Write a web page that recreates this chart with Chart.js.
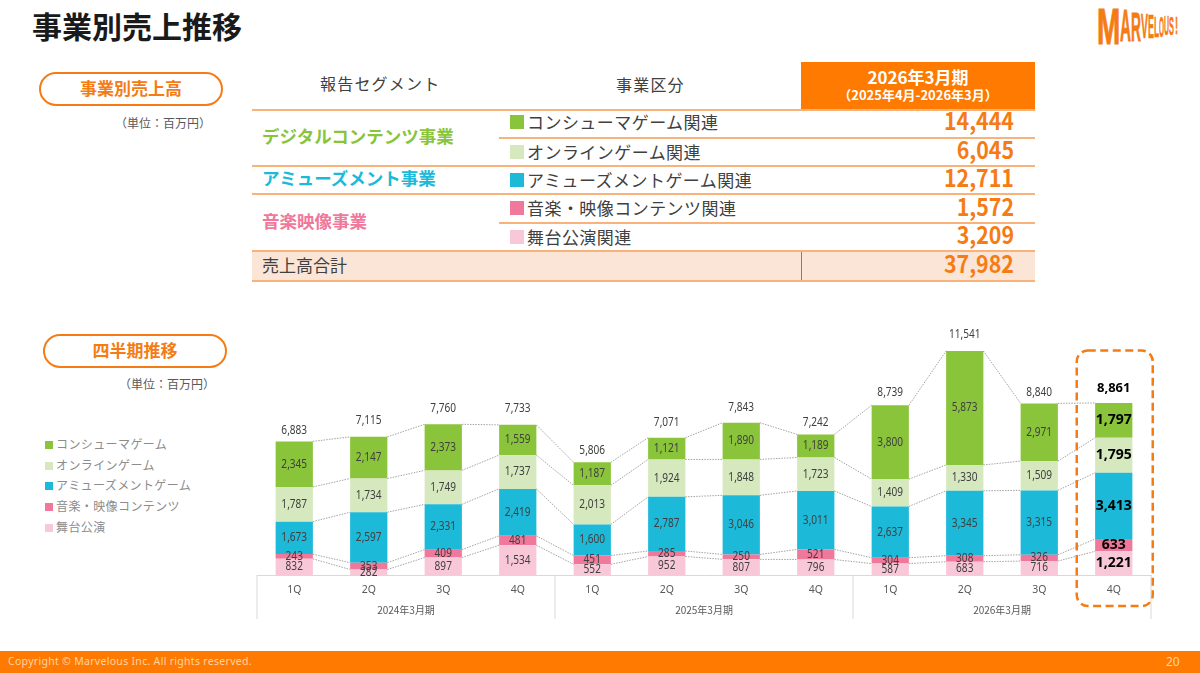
<!DOCTYPE html>
<html lang="ja">
<head>
<meta charset="UTF-8">
<title>事業別売上推移</title>
<script src="https://cdn.jsdelivr.net/npm/chart.js"></script>
<style>
  html, body { margin: 0; padding: 0; background: #fff; }
  body { width: 1200px; height: 673px; position: relative; overflow: hidden; font-family: "Noto Sans CJK JP", sans-serif; color: #404040; }
  .abs { position: absolute; white-space: nowrap; line-height: 1; }
  .mid { transform: translateY(-50%); }
  .pill { position: absolute; box-sizing: border-box; width: 184px; height: 34px; border: 2px solid #f57c14; border-radius: 17px; color: #f57c14; font-weight: 700; font-size: 17px; line-height: 28px; text-align: center; background: #fff; }
  .unit { font-size: 12px; color: #595959; }
  .rule { position: absolute; }
  .value { font-size: 23.5px; font-weight: 700; color: #f57c14; transform: translateY(-50%) scaleX(.91); transform-origin: right center; }
  #chartBox { position: absolute; left: 0; top: 320px; width: 1200px; height: 310px; }
  #logo span { position: absolute; font-family: "Liberation Sans Narrow", "Liberation Sans", sans-serif; font-weight: 700; font-size: 40px; line-height: 40px; color: #f57c14; transform-origin: left top; white-space: nowrap; -webkit-text-stroke: .8px #f57c14; }
  #footer { position: absolute; left: 0; top: 651px; width: 1200px; height: 22px; background: #ff7a00; }
</style>
</head>
<body>
  <div class="abs mid" style="left:32px;top:25px;font-size:30px;font-weight:700;color:#1a1a1a">事業別売上推移</div>
  <div id="logo"></div>

  <div class="pill" style="left:39px;top:72px">事業別売上高</div>
  <div class="abs mid unit" style="left:115px;top:123px">（単位：百万円）</div>
  <div class="pill" style="left:43px;top:334px">四半期推移</div>
  <div class="abs mid unit" style="left:119px;top:384px">（単位：百万円）</div>

  <div id="table"></div>
  <div id="legend"></div>

  <div id="chartBox"><canvas id="quarterChart" width="1200" height="310"></canvas></div>

  <div id="footer"></div>
  <div class="abs mid" style="left:8px;top:661px;font-size:10.5px;letter-spacing:.3px;color:#ffd3a6;font-family:'Noto Sans',sans-serif">Copyright © Marvelous Inc. All rights reserved.</div>
  <div class="abs mid" style="left:1166px;top:662px;font-size:12px;color:#ffd3a6;font-family:'Noto Sans',sans-serif">20</div>

<script>
  // 四半期推移
  const quarters = ['1Q', '2Q', '3Q', '4Q', '1Q', '2Q', '3Q', '4Q', '1Q', '2Q', '3Q', '4Q'];
  const fiscalYears = ['2024年3月期', '2025年3月期', '2026年3月期'];
  const seriesNames = ['コンシューマゲーム', 'オンラインゲーム', 'アミューズメントゲーム', '音楽・映像コンテンツ', '舞台公演'];
  const consumer  = [2345, 2147, 2373, 1559, 1187, 1121, 1890, 1189, 3800, 5873, 2971, 1797];
  const online    = [1787, 1734, 1749, 1737, 2013, 1924, 1848, 1723, 1409, 1330, 1509, 1795];
  const amusement = [1673, 2597, 2331, 2419, 1600, 2787, 3046, 3011, 2637, 3345, 3315, 3413];
  const music     = [243, 353, 409, 481, 451, 285, 250, 521, 304, 308, 326, 633];
  const stage     = [832, 282, 897, 1534, 552, 952, 807, 796, 587, 683, 716, 1221];
  const totals    = [6883, 7115, 7760, 7733, 5806, 7071, 7843, 7242, 8739, 11541, 8840, 8861];

  // 事業別売上高テーブル
  const tableItems = ['コンシューマゲーム関連', 'オンラインゲーム関連', 'アミューズメントゲーム関連', '音楽・映像コンテンツ関連', '舞台公演関連'];
  const tableValues = ['14,444', '6,045', '12,711', '1,572', '3,209'];
  const tableTotal = '37,982';

  const colors = ['#8ac43a', '#d5e8be', '#1cb9d8', '#f0789a', '#f9c8d8'];
  const fmt = v => v.toLocaleString('en-US');

  // テーブル
  const table = document.getElementById('table');
  function add(html) { table.insertAdjacentHTML('beforeend', html); }
  function text(x, y, str, style) {
    add('<div class="abs mid" style="left:' + x + 'px;top:' + y + 'px;' + style + '">' + str + '</div>');
  }
  add('<div style="position:absolute;left:801px;top:62px;width:234px;height:47px;background:#ff7a00"></div>');
  add('<div style="position:absolute;left:252px;top:251px;width:783px;height:30px;background:#fbe5d6"></div>');
  add('<div style="position:absolute;left:800.5px;top:251px;height:30px;border-left:1px solid #7f7f7f"></div>');
  [[252, 109, 2], [499, 137, 2], [252, 165, 2], [252, 193, 2], [499, 222, 2], [252, 250, 2], [252, 280, 2]].forEach(r => {
    add('<div class="rule" style="left:' + r[0] + 'px;top:' + r[1] + 'px;width:' + (1035 - r[0]) + 'px;height:' + r[2] + 'px;background:#f8b27a"></div>');
  });
  text(320, 83, '報告セグメント', 'font-size:16px;letter-spacing:1.2px');
  text(616, 84, '事業区分', 'font-size:16px;letter-spacing:1.2px');
  add('<div class="abs" style="left:801px;width:234px;top:68px;text-align:center;color:#fff;font-weight:700;font-size:17px">2026年3月期</div>');
  add('<div class="abs" style="left:801px;width:234px;top:88px;text-align:center;color:#fff;font-weight:700;font-size:13px">（2025年4月-2026年3月）</div>');
  text(262, 136, 'デジタルコンテンツ事業', 'font-size:17.5px;font-weight:700;color:' + colors[0]);
  text(262, 178, 'アミューズメント事業', 'font-size:17.5px;font-weight:700;color:' + colors[2]);
  text(262, 221, '音楽映像事業', 'font-size:17.5px;font-weight:700;color:' + colors[3]);
  text(262, 264, '売上高合計', 'font-size:17px');
  const rowY = [122, 152, 180, 208, 237];
  const valueY = [121, 150, 178, 207, 235];
  tableItems.forEach((name, i) => {
    add('<div style="position:absolute;left:510px;top:' + (rowY[i] - 7) + 'px;width:14px;height:14px;background:' + colors[i] + '"></div>');
    text(527, rowY[i] - 1, name, 'font-size:17px;letter-spacing:.45px');
    add('<div class="abs value" style="right:186px;top:' + valueY[i] + 'px">' + tableValues[i] + '</div>');
  });
  add('<div class="abs value" style="right:186px;top:264px">' + tableTotal + '</div>');

  // 凡例
  const legend = document.getElementById('legend');
  const legendY = [445, 466, 486, 507, 528];
  seriesNames.forEach((name, i) => {
    legend.insertAdjacentHTML('beforeend',
      '<div style="position:absolute;left:45px;top:' + (legendY[i] - 4) + 'px;width:8px;height:8px;background:' + colors[i] + '"></div>' +
      '<div class="abs mid" style="left:56px;top:' + (legendY[i] - 1) + 'px;font-size:12px;letter-spacing:.4px;color:#8c8c8c">' + name + '</div>');
  });

  // ロゴ 文字ごとに縮めて遠近感を出す
  const logo = document.getElementById('logo');
  const logoX = [1097, 1120, 1131, 1141, 1148, 1154, 1159, 1164, 1169, 1174.5];
  const logoW = [23, 11, 10, 7, 6, 5, 5, 5, 5, 3];
  const logoTop = [9, 11, 12.5, 13.5, 14.5, 15.5, 16, 16.5, 17, 18];
  const logoH = [36, 31.5, 29, 26, 24, 22, 21, 20, 19, 17];
  'MARVELOUS!'.split('').forEach((c, i) => {
    const s = document.createElement('span');
    s.textContent = c;
    logo.appendChild(s);
    const w = s.offsetWidth;
    // 40px のうちキャップ高は約29px、上の余白は約6px
    const sy = logoH[i] / 29;
    s.style.left = logoX[i] + 'px';
    s.style.top = (logoTop[i] - 6 * sy) + 'px';
    s.style.transform = 'scale(' + (logoW[i] / w) + ',' + sy + ')';
  });

  // 棒の間の点線、数値ラベル、期の区切り
  const totalGap = [11, 16, 16, 16, 12, 15, 15, 12, 13, 16, 11, 15];
  function narrowText(ctx, str, x, y) {
    // 元資料の数字は幅が狭いので少し詰める
    ctx.fillText(str, x, y, ctx.measureText(str).width * 0.84);
  }
  const annotate = {
    id: 'annotate',
    afterDatasetsDraw(chart) {
      const ctx = chart.ctx;
      const xs = chart.scales.x;
      const n = quarters.length;
      ctx.save();

      // 点線
      ctx.strokeStyle = '#8c8c8c';
      ctx.lineWidth = 0.8;
      ctx.setLineDash([1.5, 1.2]);
      chart.data.datasets.forEach((ds, d) => {
        const bars = chart.getDatasetMeta(d).data;
        for (let i = 0; i < n - 1; i++) {
          ctx.beginPath();
          ctx.moveTo(bars[i].x + bars[i].width / 2, bars[i].y);
          ctx.lineTo(bars[i + 1].x - bars[i + 1].width / 2, bars[i + 1].y);
          ctx.stroke();
        }
      });
      ctx.setLineDash([]);

      // 区切り線と期ラベル
      const step = xs.getPixelForValue(1) - xs.getPixelForValue(0);
      const bottom = chart.chartArea.bottom;
      ctx.strokeStyle = '#d9d9d9';
      ctx.lineWidth = 1;
      for (let g = 0; g <= fiscalYears.length; g++) {
        const x = xs.getPixelForValue(g * 4) - step / 2;
        ctx.beginPath();
        ctx.moveTo(x, bottom);
        ctx.lineTo(x, bottom + 44);
        ctx.stroke();
      }
      ctx.textAlign = 'center';
      ctx.textBaseline = 'middle';
      ctx.fillStyle = '#595959';
      ctx.font = '10px "Noto Sans CJK JP"';
      fiscalYears.forEach((label, g) => {
        const x = xs.getPixelForValue(g * 4 + 1.5);
        ctx.fillText(label, x, bottom + 35);
      });

      // 数値ラベル
      chart.data.datasets.forEach((ds, d) => {
        chart.getDatasetMeta(d).data.forEach((bar, i) => {
          const y = (bar.y + bar.base) / 2;
          if (i === n - 1) {
            ctx.fillStyle = '#000';
            ctx.font = 'bold 14px "Noto Sans"';
            ctx.fillText(fmt(ds.data[i]), bar.x, y);
          } else {
            ctx.fillStyle = '#404040';
            ctx.font = '12px "Noto Sans"';
            narrowText(ctx, fmt(ds.data[i]), bar.x, y);
          }
        });
      });
      const topBars = chart.getDatasetMeta(chart.data.datasets.length - 1).data;
      totals.forEach((v, i) => {
        const y = topBars[i].y - totalGap[i];
        if (i === n - 1) {
          ctx.fillStyle = '#000';
          ctx.font = 'bold 13px "Noto Sans"';
          ctx.fillText(fmt(v), topBars[i].x, y);
        } else {
          ctx.fillStyle = '#404040';
          ctx.font = '12px "Noto Sans"';
          narrowText(ctx, fmt(v), topBars[i].x, y);
        }
      });

      // 2026年3月期 4Q の強調枠
      const cx = topBars[n - 1].x;
      ctx.strokeStyle = '#f57c14';
      ctx.lineWidth = 2.5;
      ctx.setLineDash([8, 4.5]);
      ctx.beginPath();
      ctx.roundRect(cx - 37, 30.5, 76, 255.5, 11);
      ctx.stroke();
      ctx.restore();
    }
  };

  new Chart(document.getElementById('quarterChart'), {
    type: 'bar',
    data: {
      labels: quarters,
      datasets: [
        { label: seriesNames[4], data: stage, backgroundColor: colors[4] },
        { label: seriesNames[3], data: music, backgroundColor: colors[3] },
        { label: seriesNames[2], data: amusement, backgroundColor: colors[2] },
        { label: seriesNames[1], data: online, backgroundColor: colors[1] },
        { label: seriesNames[0], data: consumer, backgroundColor: colors[0] }
      ]
    },
    options: {
      responsive: false,
      animation: false,
      layout: { padding: { left: 257, right: 49, top: 0, bottom: 0 } },
      plugins: { legend: { display: false }, tooltip: { enabled: false }, title: { display: false } },
      datasets: { bar: { barPercentage: 1, categoryPercentage: 0.5, borderWidth: 0 } },
      scales: {
        x: {
          stacked: true,
          afterFit: s => { s.height = 55; },
          grid: { display: false },
          border: { color: '#d9d9d9' },
          ticks: { color: '#595959', font: { size: 10.5, family: 'Noto Sans' }, padding: 1, autoSkip: false, maxRotation: 0 }
        },
        y: { stacked: true, display: false, min: 0, max: 13130 }
      }
    },
    plugins: [annotate]
  });
</script>
</body>
</html>
